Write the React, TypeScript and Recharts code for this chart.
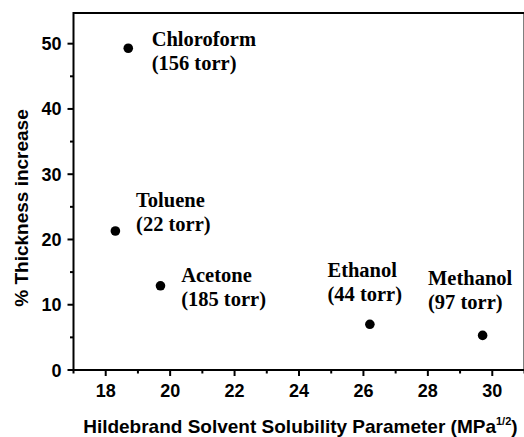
import React from 'react';
import { ScatterChart, Scatter, XAxis, YAxis, ReferenceArea } from 'recharts';

// Solvent swelling measurements
const solvents = ['Chloroform', 'Toluene', 'Acetone', 'Ethanol', 'Methanol'];
const vaporPressureTorr = [156, 22, 185, 44, 97];
const solubilityParameter = [18.7, 18.3, 19.7, 26.2, 29.7];
const thicknessIncrease = [49.3, 21.3, 12.9, 7.0, 5.3];

// Axis ticks (labelled ones are a subset of all tick marks)
const xTicks = [17, 18, 19, 20, 21, 22, 23, 24, 25, 26, 27, 28, 29, 30, 31];
const xTickLabels = [18, 20, 22, 24, 26, 28, 30];
const yTicks = [0, 5, 10, 15, 20, 25, 30, 35, 40, 45, 50];
const yTickLabels = [0, 10, 20, 30, 40, 50];

const X_DOMAIN: [number, number] = [17, 31];
const Y_DOMAIN: [number, number] = [0, 54.7];

// Annotation placement relative to each marker (first-line baseline)
const LABEL_LAYOUT: Record<string, { dx: number; dy: number }> = {
  Chloroform: { dx: 23.4, dy: -2.6 },
  Toluene: { dx: 20.7, dy: -23.7 },
  Acetone: { dx: 20.7, dy: -3.8 },
  Ethanol: { dx: -42.4, dy: -47.6 },
  Methanol: { dx: -54.6, dy: -50 },
};

const data = solvents.map((name, i) => ({
  name,
  torr: vaporPressureTorr[i],
  x: solubilityParameter[i],
  y: thicknessIncrease[i],
}));

const SANS = "Arial, 'Liberation Sans', Helvetica, sans-serif";
const SERIF = "'Times New Roman', 'Liberation Serif', Times, serif";
const MAJOR = 6;
const MINOR = 3.5;

const BottomTick = (props: any) => {
  const { x, y, payload } = props;
  const major = xTickLabels.includes(payload.value);
  return (
    <g>
      <line x1={x} y1={y} x2={x} y2={y + (major ? MAJOR : MINOR)} stroke="#000" strokeWidth={2} />
      {major && (
        <text x={x} y={y + 27} textAnchor="middle" fontFamily={SANS} fontWeight="bold" fontSize={18} fill="#000">
          {payload.value}
        </text>
      )}
    </g>
  );
};

const TopTick = (props: any) => {
  const { x, y, payload } = props;
  const major = xTickLabels.includes(payload.value);
  return <line x1={x} y1={y} x2={x} y2={y + (major ? MAJOR : MINOR)} stroke="#000" strokeWidth={2} />;
};

const LeftTick = (props: any) => {
  const { x, y, payload } = props;
  const major = yTickLabels.includes(payload.value);
  return (
    <g>
      <line x1={x - (major ? MAJOR : MINOR)} y1={y} x2={x} y2={y} stroke="#000" strokeWidth={2} />
      {major && (
        <text x={x - 12} y={y + 6.5} textAnchor="end" fontFamily={SANS} fontWeight="bold" fontSize={18} fill="#000">
          {payload.value}
        </text>
      )}
    </g>
  );
};

const RightTick = (props: any) => {
  const { x, y, payload } = props;
  const major = yTickLabels.includes(payload.value);
  return <line x1={x - (major ? MAJOR : MINOR)} y1={y} x2={x} y2={y} stroke="#000" strokeWidth={2} />;
};

const SolventPoint = (props: any) => {
  const { cx, cy, payload } = props;
  const layout = LABEL_LAYOUT[payload.name] || { dx: 20, dy: -4 };
  const tx = cx + layout.dx;
  const ty = cy + layout.dy;
  return (
    <g>
      <circle cx={cx} cy={cy} r={4.8} fill="#000" />
      <text x={tx} y={ty} fontFamily={SERIF} fontWeight="bold" fontSize={20.5} fill="#000">
        <tspan x={tx}>{payload.name}</tspan>
        <tspan x={tx} dy={24}>{`(${payload.torr} torr)`}</tspan>
      </text>
    </g>
  );
};

const YTitle = () => (
  <text
    x={27.5}
    y={208}
    transform="rotate(-90, 27.5, 208)"
    textAnchor="middle"
    fontFamily={SANS}
    fontWeight="bold"
    fontSize={19}
    fill="#000"
  >
    % Thickness increase
  </text>
);

const XTitle = () => (
  <text x={300.4} y={432.7} textAnchor="middle" fontFamily={SANS} fontWeight="bold" fontSize={19} fill="#000">
    Hildebrand Solvent Solubility Parameter (MPa
    <tspan fontSize={11} dy={-7.7}>1/2</tspan>
    <tspan dy={7.7}>)</tspan>
  </text>
);

export default function App() {
  return (
    <div
      style={{
        position: 'absolute',
        left: 0,
        top: 0,
        width: 524,
        height: 437,
        overflow: 'hidden',
        background: '#fff',
      }}
    >
      <ScatterChart width={526} height={437} margin={{ top: 13, right: 1.5, bottom: 0, left: 0 }}>
        <XAxis
          xAxisId="bottom"
          dataKey="x"
          type="number"
          domain={X_DOMAIN}
          ticks={xTicks}
          allowDataOverflow
          height={67}
          tickSize={0}
          tickMargin={0}
          tickLine={false}
          tick={BottomTick}
          interval={0}
          axisLine={false}
          label={{ content: XTitle }}
        />
        <XAxis
          xAxisId="top"
          orientation="top"
          type="number"
          domain={X_DOMAIN}
          ticks={xTicks}
          allowDataOverflow
          height={0}
          tickSize={0}
          tickMargin={0}
          tickLine={false}
          tick={TopTick}
          interval={0}
          axisLine={false}
        />
        <YAxis
          yAxisId="left"
          dataKey="y"
          type="number"
          domain={Y_DOMAIN}
          ticks={yTicks}
          allowDataOverflow
          width={73.5}
          tickSize={0}
          tickMargin={0}
          tickLine={false}
          tick={LeftTick}
          interval={0}
          axisLine={false}
          label={{ content: YTitle }}
        />
        <YAxis
          yAxisId="right"
          orientation="right"
          type="number"
          domain={Y_DOMAIN}
          ticks={yTicks}
          allowDataOverflow
          width={0}
          tickSize={0}
          tickMargin={0}
          tickLine={false}
          tick={RightTick}
          interval={0}
          axisLine={false}
        />
        {/* plot frame */}
        <ReferenceArea
          xAxisId="bottom"
          yAxisId="left"
          x1={X_DOMAIN[0]}
          x2={X_DOMAIN[1]}
          y1={Y_DOMAIN[0]}
          y2={Y_DOMAIN[1]}
          fill="none"
          fillOpacity={0}
          stroke="#000"
          strokeWidth={2}
          strokeOpacity={1}
          ifOverflow="visible"
        />
        <Scatter
          data={data}
          xAxisId="bottom"
          yAxisId="left"
          fill="#000"
          shape={SolventPoint}
          isAnimationActive={false}
        />
      </ScatterChart>
    </div>
  );
}
